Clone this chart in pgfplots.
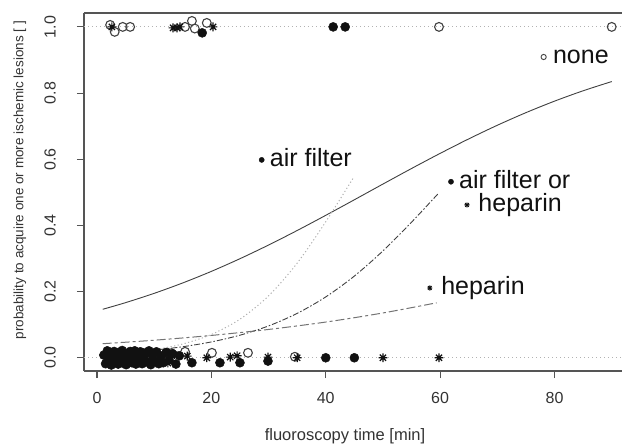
\documentclass[border=0pt]{standalone}
\usepackage{pgfplots}
\pgfplotsset{compat=1.18}
\usepackage{fontspec}
\setmainfont{Liberation Sans}
\definecolor{axgray}{HTML}{555555}
\definecolor{txtgray}{HTML}{333333}
\definecolor{ptgray}{HTML}{111111}
\pgfdeclareplotmark{rstar}{%
  \pgfpathmoveto{\pgfqpoint{-\pgfplotmarksize}{0pt}}\pgfpathlineto{\pgfqpoint{\pgfplotmarksize}{0pt}}%
  \pgfpathmoveto{\pgfqpoint{0pt}{-\pgfplotmarksize}}\pgfpathlineto{\pgfqpoint{0pt}{\pgfplotmarksize}}%
  \pgfpathmoveto{\pgfqpoint{-0.707\pgfplotmarksize}{-0.707\pgfplotmarksize}}\pgfpathlineto{\pgfqpoint{0.707\pgfplotmarksize}{0.707\pgfplotmarksize}}%
  \pgfpathmoveto{\pgfqpoint{-0.707\pgfplotmarksize}{0.707\pgfplotmarksize}}\pgfpathlineto{\pgfqpoint{0.707\pgfplotmarksize}{-0.707\pgfplotmarksize}}%
  \pgfusepathqstroke}
\begin{document}
\begin{tikzpicture}
\begin{axis}[
  at={(0,0)}, anchor=south west,
  scale only axis, width=538pt, height=358pt,
  xmin=-2.27, xmax=91.8, ymin=-0.04, ymax=1.042,
  axis x line*=bottom, axis y line*=left,
  axis line style={axgray, line width=1.3pt},
  tick align=outside, major tick length=7pt,
  tick style={axgray, line width=1.1pt},
  xtick={0,20,40,60,80}, xticklabels={0,20,40,60,80},
  ytick={0,0.2,0.4,0.6,0.8,1},
  yticklabels={\rotatebox{90}{0.0},\rotatebox{90}{0.2},\rotatebox{90}{0.4},\rotatebox{90}{0.6},\rotatebox{90}{0.8},\rotatebox{90}{1.0}},
  /pgf/number format/assume math mode=true,
  xticklabel style={font=\fontsize{16}{18}\selectfont, text=txtgray, inner sep=0pt, anchor=north, yshift=-14pt},
  yticklabel style={font=\fontsize{16}{18}\selectfont, text=txtgray, inner sep=0pt, anchor=east, xshift=-21pt},
  clip mode=individual,
]
% reference lines
\addplot[gray!60, line width=0.9pt, dash pattern=on 1pt off 3pt] coordinates {(-2.27,0) (91.8,0)};
\addplot[gray!60, line width=0.9pt, dash pattern=on 1pt off 3pt] coordinates {(-2.27,1) (91.8,1)};

% none (solid)
\addplot[black!75, line width=0.9pt, smooth] coordinates {
(1,0.1465) (5,0.1666) (10,0.1947) (15,0.2262) (20,0.2611) (25,0.2994) (30,0.3407)
(35,0.3846) (40,0.4305) (45,0.4775) (50,0.5250) (55,0.5720) (60,0.6177) (65,0.6615)
(70,0.7027) (75,0.7408) (80,0.7756) (85,0.8069) (90,0.8348)};
% air filter (dotted)
\addplot[gray!60, line width=1pt, dash pattern=on 1.2pt off 2.4pt, smooth] coordinates {
(1,0.0091) (5,0.0141) (10,0.0244) (15,0.0417) (20,0.0704) (25,0.1166) (30,0.1870)
(35,0.2860) (40,0.4110) (44.8,0.5431)};
% air filter or heparin (dash-dot)
\addplot[black!75, line width=0.9pt, dash pattern=on 6pt off 2pt on 1.5pt off 2pt, smooth] coordinates {
(1,0.0119) (5,0.0161) (10,0.0232) (15,0.0334) (20,0.0479) (25,0.0682) (30,0.0962)
(35,0.1341) (40,0.1839) (45,0.2469) (50,0.3230) (55,0.4098) (59.6,0.4950)};
% heparin (dashed)
\addplot[black!55, line width=1pt, dash pattern=on 9pt off 3pt on 3pt off 3pt, smooth] coordinates {
(1,0.0425) (10,0.0530) (20,0.0675) (30,0.0856) (40,0.1079) (50,0.1354) (59.4,0.1662)};

% open circles (none)
\addplot[only marks, mark=o, mark size=4.4pt, mark options={ptgray!80, line width=1.1pt}] coordinates {
(2.3,1.006) (3.1,0.985) (4.5,1.0) (5.8,1.0) (15.4,1.0) (16.6,1.018) (17.1,0.995) (19.2,1.012) (59.8,1.0) (90.0,1.0)
(2.2,0.012) (4.9,-0.008) (7.4,0.015) (10.6,0.008) (13.0,0.014) (15.4,0.018) (20.1,0.015) (26.4,0.015) (34.6,0.003)};
% stars (heparin)
\addplot[only marks, mark=rstar, mark size=4.4pt, mark options={ptgray, line width=1.2pt}] coordinates {
(2.6,1.0) (13.3,0.997) (14.0,0.997) (14.5,1.0) (20.3,1.0)
(1.6,0.008) (2.9,-0.006) (4.3,0.012) (5.5,0.0) (6.9,-0.015) (8.0,0.016) (9.6,-0.003) (11.0,0.012)
(12.4,-0.016) (13.5,0.010) (15.8,0.005) (19.2,0.0) (23.3,0.002) (24.5,0.006) (29.9,0.002) (35.0,0.0) (50.0,0.0) (59.8,0.0)};
% filled dots (air filter)
\addplot[only marks, mark=*, mark size=4.5pt, mark options={ptgray, fill=ptgray, line width=0.5pt}] coordinates {
(18.4,0.982) (41.3,1.0) (43.4,1.0)
(1.2,0.008) (1.5,-0.018) (1.8,0.021) (2.0,-0.006) (2.3,0.015) (2.5,-0.022) (2.7,0.003) (3.0,0.019)
(3.2,-0.013) (3.4,0.009) (3.7,-0.019) (3.9,0.016) (4.1,-0.003) (4.4,0.022) (4.6,-0.016) (4.8,0.006)
(5.1,-0.021) (5.3,0.013) (5.6,-0.009) (5.8,0.019) (6.1,-0.015) (6.3,0.004) (6.6,0.021) (6.8,-0.019)
(7.1,0.010) (7.3,-0.006) (7.6,0.018) (7.9,-0.018) (8.2,0.003) (8.5,0.015) (8.8,-0.013) (9.1,0.021)
(9.4,-0.021) (9.7,0.007) (10.1,-0.010) (10.4,0.018) (10.8,-0.018) (11.2,0.004) (11.6,-0.015) (12.1,0.016)
(12.6,-0.007) (13.2,0.012) (13.8,-0.019) (14.4,0.006)
(16.6,-0.015) (21.5,-0.015) (25.0,-0.015) (29.9,-0.010) (40.0,0.0) (45.0,0.0)};

% annotations
\addplot[only marks, mark=o, mark size=2.6pt, mark options={ptgray!80, line width=0.9pt},
  nodes near coords, point meta=explicit symbolic,
  every node near coord/.style={anchor=base west, inner sep=0pt, xshift=9pt, yshift=-6.5pt, font=\fontsize{25}{30}\selectfont, text=ptgray}]
  coordinates {(78.1,0.909) [none]};
\addplot[only marks, mark=*, mark size=2.6pt, mark options={ptgray, fill=ptgray},
  nodes near coords, point meta=explicit symbolic,
  every node near coord/.style={anchor=base west, inner sep=0pt, xshift=8pt, yshift=-6.5pt, font=\fontsize{25}{30}\selectfont, text=ptgray}]
  coordinates {(28.8,0.598) [air filter] (61.9,0.532) [air filter or]};
\addplot[only marks, mark=rstar, mark size=2.6pt, mark options={ptgray, line width=0.9pt},
  nodes near coords, point meta=explicit symbolic,
  every node near coord/.style={anchor=base west, inner sep=0pt, xshift=11pt, yshift=-6.5pt, font=\fontsize{25}{30}\selectfont, text=ptgray}]
  coordinates {(64.7,0.462) [heparin] (58.2,0.211) [heparin]};

\draw[axgray, line width=1.3pt] (rel axis cs:0,1) -- (rel axis cs:1,1);
\end{axis}
\node[anchor=base, font=\fontsize{16.5}{19}\selectfont, text=txtgray, inner sep=0pt] at (261pt,-69pt) {fluoroscopy time [min]};
\node[anchor=base, rotate=90, font=\fontsize{13.5}{16}\selectfont, text=txtgray, inner sep=0pt] at (-60.5pt,191pt) {probability to acquire one or more ischemic lesions [ ]};
\pgfresetboundingbox
\useasboundingbox (-84pt,-74pt) rectangle (538pt,371pt);
\end{tikzpicture}
\end{document}
